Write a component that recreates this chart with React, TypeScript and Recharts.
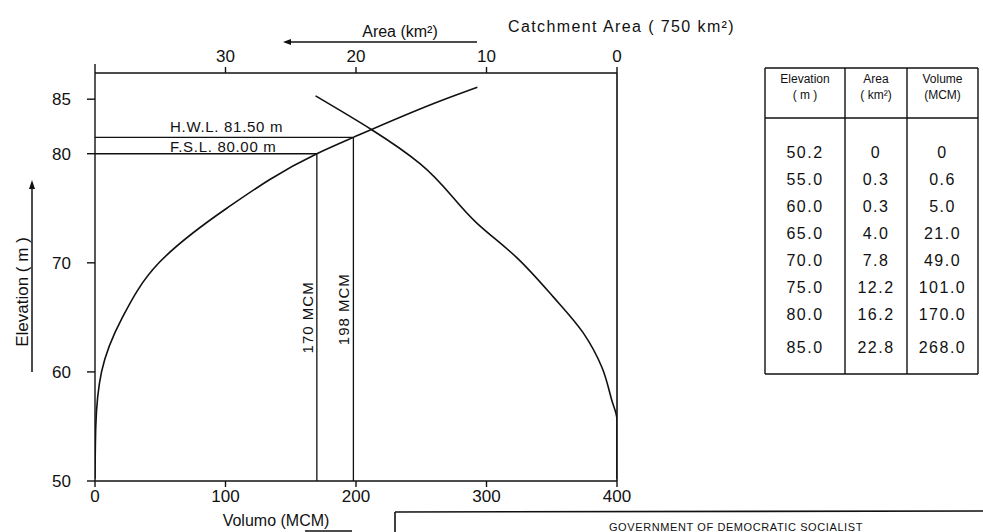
import React from "react";
import { ComposedChart, Line, XAxis, YAxis, ReferenceLine, Label } from "recharts";

// elevation-volume curve
const volumeElev = [50.2, 55, 60, 65, 70, 75, 80, 81.5, 85, 86.1];
const volumeMcm = [0, 0.6, 5, 21, 49, 101, 170, 198, 268, 293];

// elevation-area curve
const areaElev = [50.2, 55.6, 57.4, 60.4, 63.6, 66.9, 70.5, 73.6, 79.1, 85.3];
const areaKm2 = [0, 0, 0.4, 1.15, 2.6, 4.9, 7.7, 10.7, 15.1, 23.1];

const volumeTicks = [0, 100, 200, 300, 400];
const areaTicks = [0, 10, 20, 30];
const elevTicks = [50, 60, 70, 80, 85];

// water levels
const levelNames = ["H.W.L. 81.50 m", "F.S.L. 80.00 m"];
const levelElev = [81.5, 80];
const levelVol = [198, 170];
const levelVolLabels = ["198 MCM", "170 MCM"];

// table on the right
const tableElev = ["50.2", "55.0", "60.0", "65.0", "70.0", "75.0", "80.0", "85.0"];
const tableArea = ["0", "0.3", "0.3", "4.0", "7.8", "12.2", "16.2", "22.8"];
const tableVol = ["0", "0.6", "5.0", "21.0", "49.0", "101.0", "170.0", "268.0"];

const INK = "#111";
const FONT = "'Liberation Sans', Arial, sans-serif";

const volData = volumeMcm.map((v, i) => ({ vol: v, elev: volumeElev[i] }));
const areaData = areaKm2.map((a, i) => ({ area: a, elev: areaElev[i] }));

const tickStyle = { fontSize: 17, fill: INK, fontFamily: FONT };

function levelText(name: string, dy: number) {
  return (p: any) => {
    const { x, y } = p.viewBox;
    return (
      <text x={x + 75} y={y + dy} fontSize={15} letterSpacing={0.7} fill={INK} fontFamily={FONT}>
        {name}
      </text>
    );
  };
}

function volText(label: string) {
  return (p: any) => {
    const { x, y, height } = p.viewBox;
    const tx = x - 4;
    const ty = y + height / 2;
    return (
      <text x={tx} y={ty} transform={`rotate(-90 ${tx} ${ty})`} textAnchor="middle" fontSize={15} letterSpacing={1} fill={INK} fontFamily={FONT}>
        {label}
      </text>
    );
  };
}

function Table() {
  const cols = [765, 845, 907, 978];
  const top = 68;
  const headBottom = 118;
  const bottom = 374;
  const rowY = (i: number) => 152 + i * 27 + (i === 7 ? 6 : 0);
  const heads = [
    ["Elevation", "( m )"],
    ["Area", "( km²)"],
    ["Volume", "(MCM)"],
  ];
  const cells = [tableElev, tableArea, tableVol];
  return (
    <g fill={INK} fontFamily={FONT}>
      <line x1={cols[0]} y1={top} x2={cols[3]} y2={top} stroke={INK} strokeWidth={1.4} />
      <line x1={cols[0]} y1={headBottom} x2={cols[3]} y2={headBottom} stroke={INK} strokeWidth={1.4} />
      <line x1={cols[0]} y1={bottom} x2={cols[3]} y2={bottom} stroke={INK} strokeWidth={1.4} />
      {cols.map((c, i) => (
        <line key={i} x1={c} y1={top} x2={c} y2={bottom} stroke={INK} strokeWidth={1.4} />
      ))}
      {heads.map((h, i) => {
        const cx = (cols[i] + cols[i + 1]) / 2;
        return (
          <g key={i}>
            <text x={cx} y={83} fontSize={12} textAnchor="middle">{h[0]}</text>
            <text x={cx} y={99} fontSize={12} textAnchor="middle">{h[1]}</text>
          </g>
        );
      })}
      {cells.map((col, ci) =>
        col.map((v, ri) => (
          <text key={ci + "-" + ri} x={(cols[ci] + cols[ci + 1]) / 2} y={rowY(ri) + 6} fontSize={16} letterSpacing={1.5} textAnchor="middle">
            {v}
          </text>
        ))
      )}
    </g>
  );
}

export default function App() {
  return (
    <div style={{ position: "absolute", left: 0, top: 0, width: 983, height: 532, background: "#fff", fontFamily: FONT }}>
      <ComposedChart width={983} height={532} margin={{ top: 0, right: 0, bottom: 0, left: 0 }}>
        <XAxis
          xAxisId="vol"
          type="number"
          dataKey="vol"
          domain={[0, 400]}
          ticks={volumeTicks}
          orientation="bottom"
          height={51}
          allowDataOverflow
          stroke={INK}
          strokeWidth={1.4}
          tickSize={6}
          tickMargin={3}
          tick={tickStyle}
        />
        <XAxis
          xAxisId="area"
          type="number"
          dataKey="area"
          domain={[0, 40]}
          reversed
          ticks={areaTicks}
          orientation="top"
          height={73}
          allowDataOverflow
          stroke={INK}
          strokeWidth={1.4}
          tickSize={6}
          tickMargin={5}
          tick={tickStyle}
        />
        <YAxis
          yAxisId="e"
          type="number"
          domain={[50, 87.4]}
          ticks={elevTicks}
          width={95}
          allowDataOverflow
          stroke={INK}
          strokeWidth={1.4}
          tickSize={8}
          tickMargin={16}
          tick={tickStyle}
        />
        <YAxis
          yAxisId="r"
          orientation="right"
          type="number"
          domain={[50, 87.4]}
          width={366}
          tick={false}
          tickLine={false}
          stroke={INK}
          strokeWidth={1.6}
        />
        {levelElev.map((e, i) => (
          <ReferenceLine
            key={"h" + i}
            xAxisId="vol"
            yAxisId="e"
            segment={[{ x: 0, y: e }, { x: levelVol[i], y: e }]}
            stroke={INK}
            strokeWidth={1.3}
            label={<Label content={levelText(levelNames[i], i === 0 ? -5 : -2)} />}
          />
        ))}
        {levelElev.map((e, i) => (
          <ReferenceLine
            key={"v" + i}
            xAxisId="vol"
            yAxisId="e"
            segment={[{ x: levelVol[i], y: 50 }, { x: levelVol[i], y: e }]}
            stroke={INK}
            strokeWidth={1.3}
            label={<Label content={volText(levelVolLabels[i])} />}
          />
        ))}
        <Line
          data={volData}
          xAxisId="vol"
          yAxisId="e"
          dataKey="elev"
          type="monotoneY"
          dot={false}
          stroke={INK}
          strokeWidth={1.6}
          isAnimationActive={false}
        />
        <Line
          data={areaData}
          xAxisId="area"
          yAxisId="e"
          dataKey="elev"
          type="monotoneY"
          dot={false}
          stroke={INK}
          strokeWidth={1.6}
          isAnimationActive={false}
        />
      </ComposedChart>

      <svg style={{ position: "absolute", left: 0, top: 0 }} width={983} height={532}>
        <line x1={95} y1={64} x2={95} y2={73} stroke={INK} strokeWidth={1.4} />

        {/* y title with arrow */}
        <text x={28} y={292} transform="rotate(-90 28 292)" textAnchor="middle" fontSize={17} fill={INK} fontFamily={FONT}>
          Elevation  ( m )
        </text>
        <line x1={32} y1={372} x2={32} y2={186} stroke={INK} strokeWidth={1.5} />
        <path d="M32 180 L29 189 L35 189 Z" fill={INK} />

        {/* bottom title */}
        <text x={276} y={526} textAnchor="middle" fontSize={16} fill={INK} fontFamily={FONT}>
          Volumo  (MCM)
        </text>
        <line x1={305} y1={531} x2={352} y2={531} stroke={INK} strokeWidth={1.3} />

        {/* top title with arrow */}
        <text x={400} y={37} textAnchor="middle" fontSize={16} fill={INK} fontFamily={FONT}>
          Area  (km²)
        </text>
        <line x1={285} y1={42} x2={477} y2={42} stroke={INK} strokeWidth={1.3} />
        <path d="M283 42 L291 39 L291 45 Z" fill={INK} />

        <text x={508} y={32} fontSize={16} letterSpacing={1.4} fill={INK} fontFamily={FONT}>
          Catchment  Area  ( 750  km²)
        </text>

        <Table />

        {/* title block */}
        <line x1={395} y1={512} x2={983} y2={511} stroke={INK} strokeWidth={1.6} />
        <line x1={395} y1={512} x2={395} y2={532} stroke={INK} strokeWidth={1.6} />
        <text x={736} y={531} textAnchor="middle" fontSize={11} letterSpacing={0.6} fill={INK} fontFamily={FONT}>
          GOVERNMENT  OF  DEMOCRATIC  SOCIALIST
        </text>
      </svg>
    </div>
  );
}
